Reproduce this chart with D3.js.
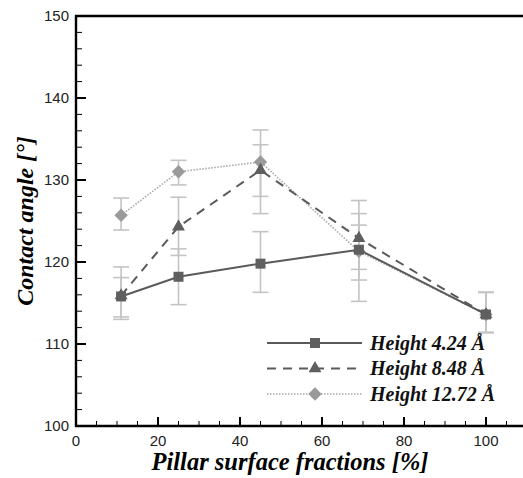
<!DOCTYPE html>
<html>
<head>
<meta charset="utf-8">
<script src="https://cdn.jsdelivr.net/npm/d3@7"></script>
<style>
  body { margin: 0; background: #fff; }
  svg { display: block; }
</style>
</head>
<body>
<svg id="chart" width="523" height="478"></svg>
<script>
// pillar surface fraction [%]
var fractions = [11, 25, 45, 69, 100];

var seriesNames = ["Height 4.24 \u00C5", "Height 8.48 \u00C5", "Height 12.72 \u00C5"];

// contact angle [deg]
var h424 = [115.8, 118.2, 119.8, 121.5, 113.6];
var h848 = [115.9, 124.3, 131.2, 122.9, 113.6];
var h1272 = [125.7, 131.0, 132.2, 121.3, 113.6];

// error bar upper / lower bounds
var h424Hi = [118.1, 121.6, 123.7, 124.5, 116.3];
var h424Lo = [113.3, 114.8, 116.3, 117.8, 111.4];
var h848Hi = [119.4, 127.9, 134.3, 125.9, 116.3];
var h848Lo = [113.0, 120.8, 125.9, 119.1, 111.4];
var h1272Hi = [127.8, 132.4, 136.1, 127.5, 116.3];
var h1272Lo = [123.9, 129.4, 128.0, 115.2, 111.4];

var xTicks = [0, 20, 40, 60, 80, 100];
var yTicks = [100, 110, 120, 130, 140, 150];

var svg = d3.select("#chart"),
  mLeft = 76,
  mTop = 16,
  mBottom = 426,
  mRight = 523;

var x = d3.scaleLinear().domain([0, 109]).range([mLeft, mLeft + 109 * 4.1]);
var y = d3.scaleLinear().domain([100, 150]).range([mBottom, mTop]);

var series = [
  { name: seriesNames[0], values: h424, hi: h424Hi, lo: h424Lo, color: "#5f5f5f", marker: "square", width: 2, dash: null, lineColor: "#5a5a5a" },
  { name: seriesNames[1], values: h848, hi: h848Hi, lo: h848Lo, color: "#5f5f5f", marker: "triangle", width: 2, dash: "9,7", lineColor: "#5a5a5a" },
  { name: seriesNames[2], values: h1272, hi: h1272Hi, lo: h1272Lo, color: "#9a9a9a", marker: "diamond", width: 1.6, dash: "1.5,1.5", lineColor: "#a8a8a8" },
];

var symbols = {
  square: d3.symbol().type(d3.symbolSquare).size(100),
  triangle: d3.symbol().type(d3.symbolTriangle).size(72),
  diamond: d3.symbol().type(d3.symbolSquare).size(90),
};
var rot = { square: 0, triangle: 0, diamond: 45 };

//error bars
var eb = svg.append("g").attr("stroke", "#c4c4c4").attr("stroke-width", 1.6).attr("fill", "none");
series.forEach(function (s) {
  fractions.forEach(function (f, i) {
    var cx = x(f);
    eb.append("line").attr("x1", cx).attr("x2", cx).attr("y1", y(s.hi[i])).attr("y2", y(s.lo[i]));
    eb.append("line").attr("x1", cx - 8).attr("x2", cx + 8).attr("y1", y(s.hi[i])).attr("y2", y(s.hi[i]));
    eb.append("line").attr("x1", cx - 8).attr("x2", cx + 8).attr("y1", y(s.lo[i])).attr("y2", y(s.lo[i]));
  });
});

var line = d3.line()
  .x(function (d, i) { return x(fractions[i]); })
  .y(function (d) { return y(d); });

// draw lighter series first so dark ones sit on top
series.slice().reverse().forEach(function (s) {
  svg.append("path")
    .attr("d", line(s.values))
    .attr("fill", "none")
    .attr("stroke", s.lineColor)
    .attr("stroke-width", s.width)
    .attr("stroke-dasharray", s.dash);
  svg.selectAll(null)
    .data(s.values)
    .enter()
    .append("path")
    .attr("d", symbols[s.marker])
    .attr("transform", function (d, i) {
      return "translate(" + x(fractions[i]) + "," + y(d) + ") rotate(" + rot[s.marker] + ")";
    })
    .attr("fill", s.color);
});

//axes
var axes = svg.append("g").attr("stroke", "#000");
axes.append("line").attr("x1", mLeft).attr("x2", mLeft).attr("y1", mTop - 1).attr("y2", mBottom + 1).attr("stroke-width", 2.4);
axes.append("line").attr("x1", mLeft - 1).attr("x2", mRight).attr("y1", mBottom).attr("y2", mBottom).attr("stroke-width", 2.4);
axes.append("line").attr("x1", mLeft - 1).attr("x2", mRight).attr("y1", mTop).attr("y2", mTop).attr("stroke-width", 2.4);

// y ticks (inward)
d3.range(100, 151, 2).forEach(function (v) {
  var major = v % 10 == 0;
  axes.append("line")
    .attr("x1", mLeft).attr("x2", mLeft + (major ? 10 : 6))
    .attr("y1", y(v)).attr("y2", y(v))
    .attr("stroke-width", major ? 2 : 1);
});
// x ticks (inward)
d3.range(0, 111, 5).forEach(function (v) {
  var major = v % 20 == 0;
  if (x(v) > mRight) return;
  axes.append("line")
    .attr("x1", x(v)).attr("x2", x(v))
    .attr("y1", mBottom).attr("y2", mBottom - (major ? 9 : 5))
    .attr("stroke-width", major ? 2 : 1);
});

var tickFont = "'Liberation Sans', Arial, sans-serif";
svg.selectAll(".ylab")
  .data(yTicks)
  .enter()
  .append("text")
  .attr("x", mLeft - 7)
  .attr("y", function (d) { return y(d); })
  .attr("dy", "0.36em")
  .attr("text-anchor", "end")
  .attr("font-family", tickFont)
  .attr("font-size", 15)
  .attr("fill", "#222")
  .text(function (d) { return d; });

svg.selectAll(".xlab")
  .data(xTicks)
  .enter()
  .append("text")
  .attr("x", function (d) { return x(d); })
  .attr("y", mBottom + 20)
  .attr("text-anchor", "middle")
  .attr("font-family", tickFont)
  .attr("font-size", 15)
  .attr("fill", "#222")
  .text(function (d) { return d; });

var titleFont = "'Liberation Serif', 'Times New Roman', serif";
svg.append("text")
  .attr("x", 290)
  .attr("y", 470)
  .attr("text-anchor", "middle")
  .attr("font-family", titleFont)
  .attr("font-size", 24.5)
  .attr("font-weight", "bold")
  .attr("font-style", "italic")
  .text("Pillar surface fractions [%]");

svg.append("text")
  .attr("transform", "translate(33," + (mTop + mBottom) / 2 + ") rotate(-90)")
  .attr("text-anchor", "middle")
  .attr("font-family", titleFont)
  .attr("font-size", 24)
  .attr("font-weight", "bold")
  .attr("font-style", "italic")
  .text("Contact angle [\u00B0]");

//legend
var legend = svg.append("g");
series.forEach(function (s, i) {
  var ly = 343 + i * 25.5;
  legend.append("line")
    .attr("x1", 267).attr("x2", 362)
    .attr("y1", ly).attr("y2", ly)
    .attr("stroke", s.lineColor)
    .attr("stroke-width", s.width)
    .attr("stroke-dasharray", s.dash);
  legend.append("path")
    .attr("d", symbols[s.marker])
    .attr("transform", "translate(315," + ly + ") rotate(" + rot[s.marker] + ")")
    .attr("fill", s.color);
  legend.append("text")
    .attr("x", 370)
    .attr("y", ly)
    .attr("dy", "0.33em")
    .attr("font-family", titleFont)
    .attr("font-size", 20)
    .attr("font-weight", "bold")
    .attr("font-style", "italic")
    .attr("fill", "#111")
    .text(s.name);
});
</script>
</body>
</html>
